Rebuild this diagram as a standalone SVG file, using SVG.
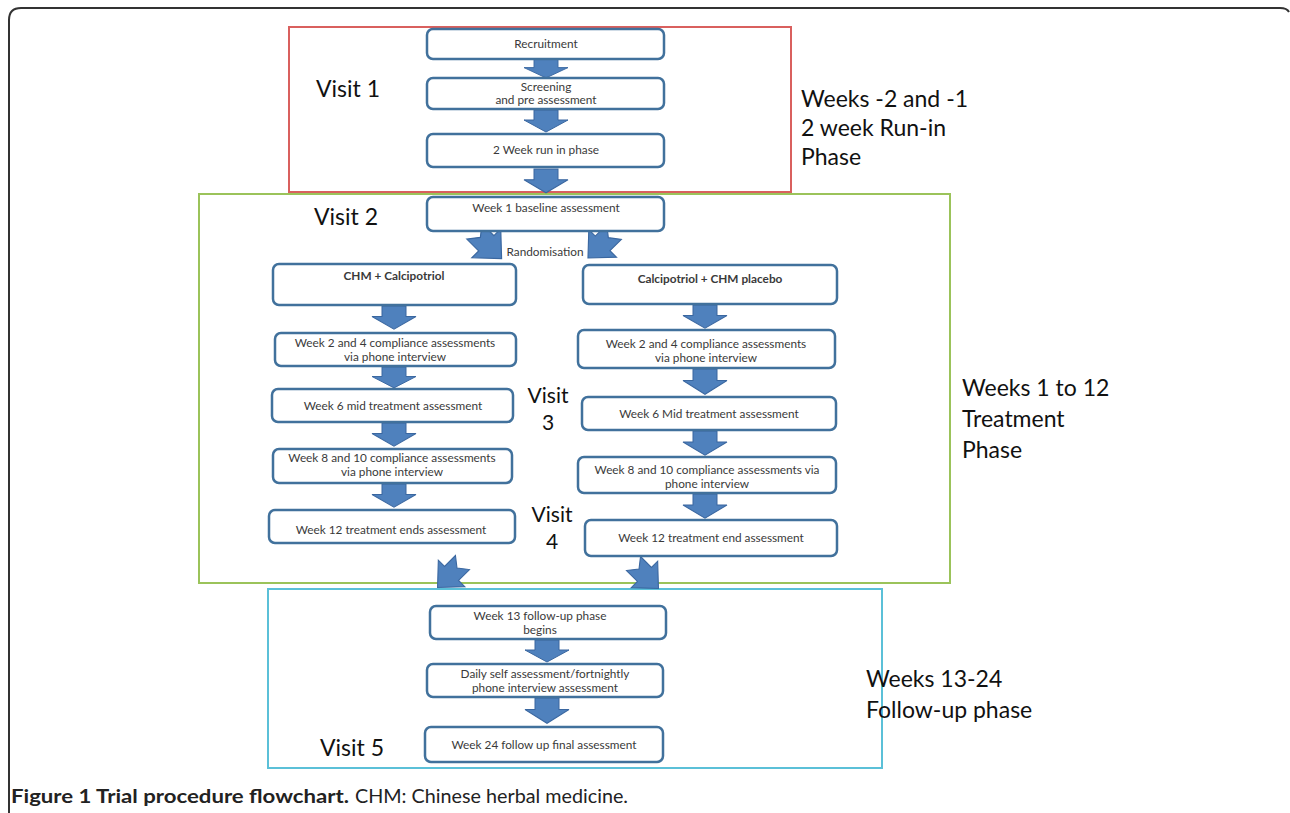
<svg xmlns="http://www.w3.org/2000/svg" width="1290" height="813" viewBox="0 0 1290 813">
<style>
.box{fill:#fff;stroke:#41719c;stroke-width:2.5}
.bt{font-family:Lato,"Liberation Sans",sans-serif;font-size:11.8px;fill:#3a3a3a;text-anchor:middle}
.bb{font-weight:bold}
.lab{font-family:Lato,"Liberation Sans",sans-serif;font-size:23px;fill:#111}
.lv{font-family:Lato,"Liberation Sans",sans-serif;font-size:21px;fill:#111;text-anchor:middle}
.arr{fill:#4f81bd;stroke:#3a67a0;stroke-width:1}
.phase{fill:none;stroke-width:2}
.cap{font-family:Lato,"Liberation Sans",sans-serif;font-size:18.5px;fill:#222}
</style>
<defs>
<path id="da" d="M-12,0 H12 V10 H22 L0,22 L-22,10 H-12 Z"/>
<path id="na" d="M-9,0 L0,7 L9,0 L9,14 L17,14 L0,32 L-17,14 L-9,14 Z"/>
</defs>
<rect width="1290" height="813" fill="#fff"/>
<path d="M9,813 V20 Q9,8 21,8 H1280 Q1287,8 1289,12" fill="none" stroke="#333" stroke-width="2"/>
<g id="phases">
<rect class="phase" x="289" y="27" width="502" height="165" stroke="#d9605e"/>
<rect class="phase" x="199" y="194" width="751" height="389" stroke="#9bc35a"/>
<rect class="phase" x="268" y="589" width="614" height="179" stroke="#5bc0d8"/>
</g>
<g id="connectors">
<use href="#da" class="arr" transform="translate(546,59) scale(1,0.86)"/>
<use href="#da" class="arr" transform="translate(546,110)"/>
<use href="#da" class="arr" transform="translate(546,169) scale(1,1.08)"/>
<use href="#da" class="arr" transform="translate(394,306) scale(1,1.05)"/>
<use href="#da" class="arr" transform="translate(394,367) scale(1,0.95)"/>
<use href="#da" class="arr" transform="translate(394,423) scale(1,1.05)"/>
<use href="#da" class="arr" transform="translate(394,484) scale(1,1.05)"/>
<use href="#da" class="arr" transform="translate(705,305) scale(1,1.05)"/>
<use href="#da" class="arr" transform="translate(705,369) scale(1,1.15)"/>
<use href="#da" class="arr" transform="translate(705,431) scale(1,1.1)"/>
<use href="#da" class="arr" transform="translate(705,494) scale(1,1.1)"/>
<use href="#da" class="arr" transform="translate(547,640)"/>
<use href="#da" class="arr" transform="translate(547,698) scale(1,1.15)"/>
<use href="#na" class="arr" transform="translate(488,245) rotate(-45) scale(1.2) translate(0,-16)"/>
<use href="#na" class="arr" transform="translate(601,245) rotate(45) scale(1.15) translate(0,-16)"/>
<use href="#na" class="arr" transform="translate(450,575) rotate(45) scale(1.1) translate(0,-16)"/>
<use href="#na" class="arr" transform="translate(646,576) rotate(-45) scale(1.1) translate(0,-16)"/>
</g>
<g id="n-recruit"><rect class="box" x="427" y="29" width="237" height="30" rx="6"/><text class="bt" x="546" y="48">Recruitment</text></g>
<g id="n-screen"><rect class="box" x="427" y="78" width="237" height="31" rx="6"/><text class="bt" x="546" y="91">Screening</text><text class="bt" x="546" y="104">and pre assessment</text></g>
<g id="n-runin"><rect class="box" x="427" y="134" width="237" height="33" rx="6"/><text class="bt" x="546" y="154">2 Week run in phase</text></g>
<g id="n-baseline"><rect class="box" x="427" y="197" width="237" height="34" rx="6"/><text class="bt" x="546" y="212">Week 1 baseline assessment</text></g>
<g id="n-rand"><text class="bt" x="545" y="256">Randomisation</text></g>
<g id="n-chm"><rect class="box" x="273" y="264" width="243" height="41" rx="6"/><text class="bt bb" x="394" y="280">CHM + Calcipotriol</text></g>
<g id="n-placebo"><rect class="box" x="583" y="265" width="254" height="39" rx="6"/><text class="bt bb" x="710" y="283">Calcipotriol + CHM placebo</text></g>
<g id="n-l2"><rect class="box" x="275" y="333" width="241" height="33" rx="6"/><text class="bt" x="395" y="347">Week 2 and 4 compliance  assessments</text><text class="bt" x="395" y="361">via phone interview</text></g>
<g id="n-r2"><rect class="box" x="578" y="330" width="257" height="38" rx="6"/><text class="bt" x="706" y="348">Week 2 and 4 compliance assessments</text><text class="bt" x="706" y="362">via phone  interview</text></g>
<g id="n-l6"><rect class="box" x="272" y="389" width="241" height="33" rx="6"/><text class="bt" x="393" y="410">Week 6 mid treatment assessment</text></g>
<g id="n-r6"><rect class="box" x="582" y="397" width="254" height="33" rx="6"/><text class="bt" x="709" y="418">Week 6 Mid treatment assessment</text></g>
<g id="n-l8"><rect class="box" x="273" y="449" width="239" height="34" rx="6"/><text class="bt" x="392" y="462">Week 8 and 10 compliance assessments</text><text class="bt" x="392" y="476">via phone interview</text></g>
<g id="n-r8"><rect class="box" x="578" y="457" width="258" height="36" rx="6"/><text class="bt" x="707" y="474">Week 8 and 10  compliance assessments via</text><text class="bt" x="707" y="488">phone interview</text></g>
<g id="n-l12"><rect class="box" x="269" y="510" width="246" height="33" rx="6"/><text class="bt" x="391" y="534">Week 12 treatment ends assessment</text></g>
<g id="n-r12"><rect class="box" x="585" y="520" width="252" height="36" rx="6"/><text class="bt" x="711" y="542">Week 12 treatment end assessment</text></g>
<g id="n-w13"><rect class="box" x="430" y="606" width="236" height="33" rx="6"/><text class="bt" x="540" y="620">Week 13 follow-up phase</text><text class="bt" x="540" y="634">begins</text></g>
<g id="n-daily"><rect class="box" x="427" y="664" width="236" height="33" rx="6"/><text class="bt" x="545" y="678">Daily self assessment/fortnightly</text><text class="bt" x="545" y="692">phone interview assessment</text></g>
<g id="n-w24"><rect class="box" x="425" y="727" width="238" height="35" rx="6"/><text class="bt" x="544" y="749">Week 24 follow up final assessment</text></g>
<g id="labels">
<text class="lab" x="316" y="97">Visit 1</text>
<text class="lab" x="314" y="225">Visit 2</text>
<text class="lv" x="548" y="403">Visit</text>
<text class="lv" x="548" y="430">3</text>
<text class="lv" x="552" y="522">Visit</text>
<text class="lv" x="552" y="549">4</text>
<text class="lab" x="320" y="756">Visit 5</text>
<text class="lab" x="801" y="107">Weeks -2 and -1</text>
<text class="lab" x="801" y="136">2 week Run-in</text>
<text class="lab" x="801" y="165">Phase</text>
<text class="lab" x="962" y="396">Weeks 1 to 12</text>
<text class="lab" x="962" y="427">Treatment</text>
<text class="lab" x="962" y="458">Phase</text>
<text class="lab" x="866" y="687">Weeks 13-24</text>
<text class="lab" x="866" y="718">Follow-up phase</text>
</g>
<g id="caption">
<text class="cap" x="11" y="803" font-weight="bold" textLength="338" lengthAdjust="spacingAndGlyphs">Figure 1 Trial procedure flowchart.</text>
<text class="cap" x="355" y="803" textLength="273" lengthAdjust="spacingAndGlyphs">CHM: Chinese herbal medicine.</text>
</g>
</svg>
